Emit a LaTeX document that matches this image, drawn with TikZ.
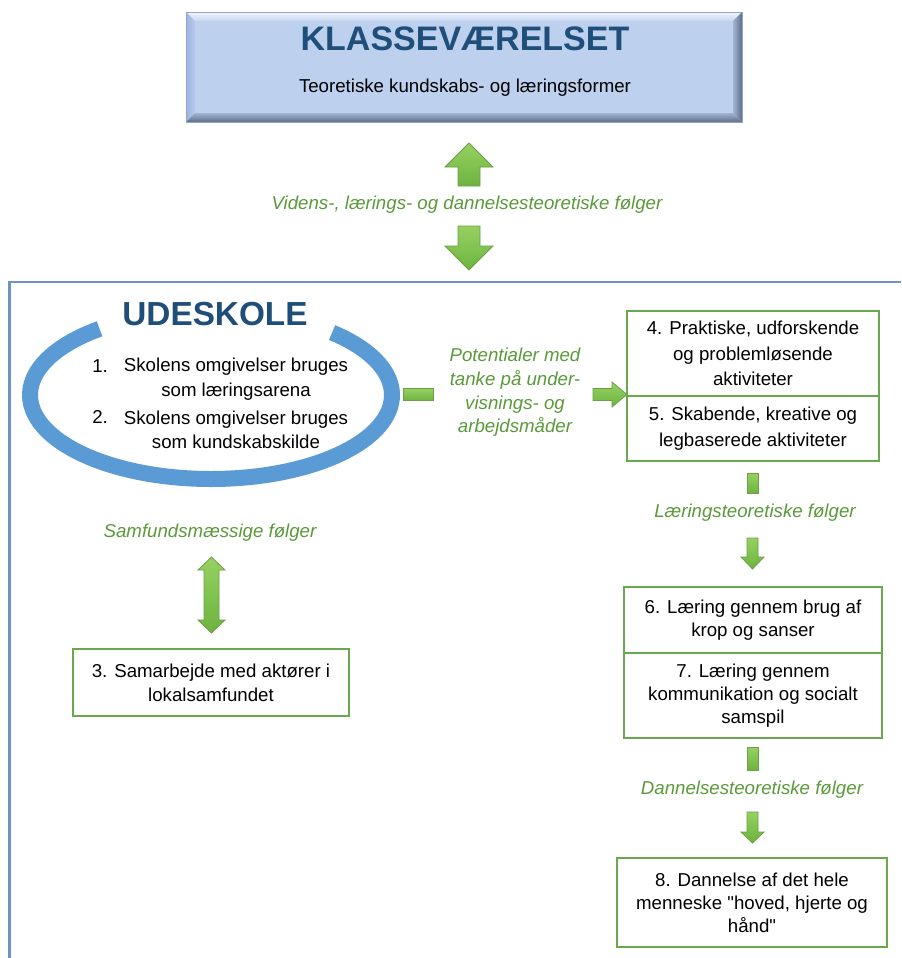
\documentclass[tikz,border=0pt]{standalone}
\usepackage{fontspec}
\setmainfont{Liberation Sans}[Ligatures=TeXOff]
\definecolor{titleblue}{HTML}{1F4E79}
\definecolor{boxface}{HTML}{BDD0EE}
\definecolor{boxedge}{HTML}{8FA6CC}
\definecolor{bevhi}{HTML}{F2F6FD}
\definecolor{bevlo}{HTML}{C6D6F0}
\definecolor{bevleftA}{HTML}{9DB5DC}
\definecolor{bevleftB}{HTML}{B6CAEA}
\definecolor{bevdarkA}{HTML}{A3B4D0}
\definecolor{bevdarkB}{HTML}{5E6F8C}
\definecolor{ringblue}{HTML}{5B9BD5}
\definecolor{framegrey}{HTML}{6F93C0}
\definecolor{leafgreen}{HTML}{6AA84F}
\definecolor{labelgreen}{HTML}{5A9A3A}
\definecolor{arrowtop}{HTML}{96D161}
\definecolor{arrowbot}{HTML}{6DB33F}
\definecolor{arrowedge}{HTML}{6E9E46}
\newcommand\bodyfont[1]{\fontsize{14}{#1}\selectfont}
\tikzset{
  blockarrow/.style={draw=arrowedge, line width=0.6pt, top color=arrowtop, bottom color=arrowbot},
  greenbox/.style={draw=leafgreen, line width=1.5pt, align=center, inner sep=0pt},
  bodytext/.style={align=center, inner sep=0pt},
  greenlabel/.style={align=center, inner sep=0pt, text=labelgreen, font=\itshape},
  % block arrow pointing down: shaft half width / head half width / head base / tip
  pics/downblock/.style args={#1/#2/#3/#4}{code={
    \path[blockarrow] (-#1,0) -- (#1,0) -- (#1,#3) -- (#2,#3) -- (0,#4)
      -- (-#2,#3) -- (-#1,#3) -- cycle;}},
  pics/upblock/.style args={#1/#2/#3/#4}{code={
    \path[blockarrow] (-#1,0) -- (#1,0) -- (#1,-#3) -- (#2,-#3) -- (0,-#4)
      -- (-#2,-#3) -- (-#1,-#3) -- cycle;}},
  pics/rightblock/.style args={#1/#2/#3/#4}{code={
    \path[blockarrow] (0,-#1) -- (#3,-#1) -- (#3,-#2) -- (#4,0) -- (#3,#2)
      -- (#3,#1) -- (0,#1) -- cycle;}},
  % two-headed vertical arrow: shaft half / head half / head length / length
  pics/vdouble/.style args={#1/#2/#3/#4}{code={
    \path[blockarrow] (0,0) -- (#2,#3) -- (#1,#3) -- (#1,{#4-#3}) -- (#2,{#4-#3})
      -- (0,#4) -- (-#2,{#4-#3}) -- (-#1,{#4-#3}) -- (-#1,#3) -- (-#2,#3) -- cycle;}},
}
\begin{document}
\begin{tikzpicture}[x=0.75pt, y=-0.75pt]
\useasboundingbox (0,0) rectangle (901,958);
\clip (0,0) rectangle (901,958);
\fill[white] (0,0) rectangle (901,958);

% ---- classroom box with bevelled edge
\fill[boxface] (186,12) rectangle (742,122);
\shade[top color=bevhi, bottom color=bevlo] (186,12) -- (742,12) -- (733,21) -- (195,21) -- cycle;
\shade[left color=bevleftA, right color=bevleftB] (186,12) -- (195,21) -- (195,113) -- (186,122) -- cycle;
\shade[left color=bevdarkA, right color=bevdarkB] (742,12) -- (742,122) -- (733,113) -- (733,21) -- cycle;
\shade[top color=bevdarkA, bottom color=bevdarkB] (186,122) -- (742,122) -- (733,113) -- (195,113) -- cycle;
\draw[boxedge, line width=0.6pt] (186,12) rectangle (742,122);
\node[bodytext, text=titleblue, font=\fontsize{25.5}{30}\selectfont\bfseries] (klasse) at (465,39) {KLASSEVÆRELSET};
\node[bodytext, font=\bodyfont{17}] (teori) at (465,88) {Teoretiske kundskabs- og læringsformer};

% ---- arrows between classroom and outdoor school
\pic at (469,186) {upblock=11/24/19/43};
\node[greenlabel, font=\itshape\bodyfont{17}] (videns) at (467,205) {Videns-, lærings- og dannelsesteoretiske følger};
\pic at (469,226) {downblock=11/24/20/44};

% ---- outdoor-school frame
\draw[framegrey, line width=1.9pt] (9.5,975) -- (9.5,282) -- (920,282);

% ---- ring
\draw[ringblue, line width=12pt] ([shift={(-48:181 and 84)}]211,395)
  arc[start angle=-48, end angle=232, x radius=181, y radius=84];
\node[bodytext, text=titleblue, font=\fontsize{25}{30}\selectfont\bfseries] (udeskole) at (215,314) {UDESKOLE};
\node[bodytext, font=\bodyfont{18.4}] (item1) at (236,379) {Skolens omgivelser bruges\\som læringsarena};
\node[bodytext, font=\bodyfont{18.4}] (item2) at (236,430) {Skolens omgivelser bruges\\som kundskabskilde};
\node[bodytext, font=\bodyfont{18.4}, anchor=base west] (num1) at (92,372) {1.};
\node[bodytext, font=\bodyfont{18.4}, anchor=base west] (num2) at (92,423) {2.};

% ---- potentials towards the activity boxes
\path[blockarrow] (403,388.5) rectangle (433,400.5);
\node[greenlabel, font=\itshape\bodyfont{17.8}] (potentialer) at (515,392.5) {Potentialer med\\tanke på under-\\visnings- og\\arbejdsmåder};
\pic at (593,394.5) {rightblock=6/12.5/19/34};

% ---- activity boxes
\node[greenbox, minimum width=189pt, minimum height=63.75pt, font=\bodyfont{19.1}] (act4) at (753,353.5)
  {4. Praktiske, udforskende\\og problemløsende\\aktiviteter};
\node[greenbox, minimum width=189pt, minimum height=48.75pt, font=\bodyfont{19.1}] (act5) at (753,428.5)
  {5. Skabende, kreative og\\legbaserede aktiviteter};

% ---- learning-theoretical consequences
\path[blockarrow] (747,473) rectangle (758,493);
\node[greenlabel, font=\itshape\bodyfont{17}] (laering) at (755,513) {Læringsteoretiske følger};
\pic at (752.5,538) {downblock=5.5/11.5/19/31};

\node[greenbox, minimum width=193.5pt, minimum height=49.5pt, font=\bodyfont{17.25}] (act6) at (753,620)
  {6. Læring gennem brug af\\krop og sanser};
\node[greenbox, minimum width=193.5pt, minimum height=63.75pt, font=\bodyfont{17.25}] (act7) at (753,695.5)
  {7. Læring gennem\\kommunikation og socialt\\samspil};

% ---- formation-theoretical consequences
\path[blockarrow] (747,747) rectangle (758,770);
\node[greenlabel, font=\itshape\bodyfont{17}] (dannelse) at (752,790) {Dannelsesteoretiske følger};
\pic at (752.5,812) {downblock=5.5/11.5/20/31};

\node[greenbox, minimum width=202.5pt, minimum height=66.75pt, font=\bodyfont{17.25}] (act8) at (752,902.5)
  {8. Dannelse af det hele\\menneske "hoved, hjerte og\\hånd"};

% ---- society
\node[greenlabel, font=\itshape\bodyfont{17}] (samfund) at (210,533) {Samfundsmæssige følger};
\pic at (211.5,557) {vdouble=7.5/13.5/13/76};
\node[greenbox, minimum width=207pt, minimum height=50.25pt, font=\bodyfont{18}] (act3) at (211,682.5)
  {3. Samarbejde med aktører i\\lokalsamfundet};
\end{tikzpicture}
\end{document}
